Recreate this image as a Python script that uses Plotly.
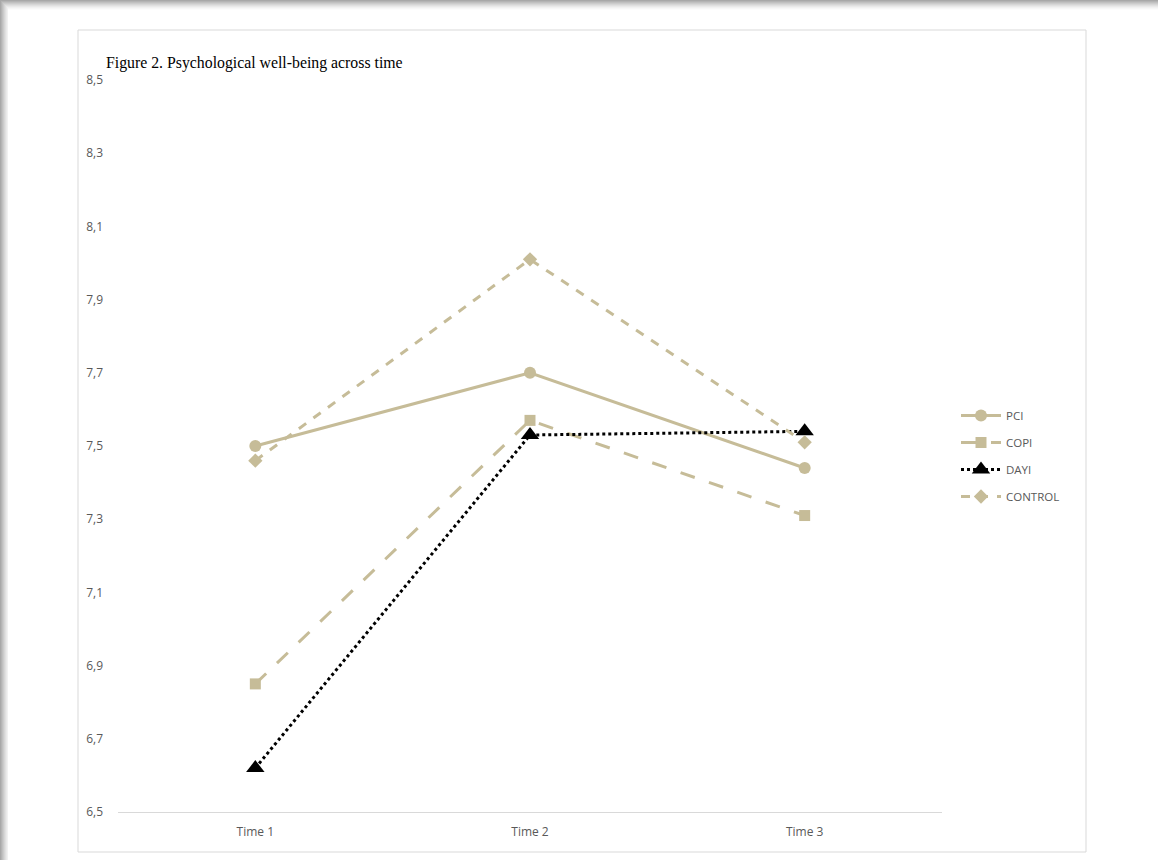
import plotly.graph_objects as go

categories = ["Time 1", "Time 2", "Time 3"]
pci = [7.50, 7.70, 7.44]
copi = [6.85, 7.57, 7.31]
dayi = [6.62, 7.53, 7.54]
control = [7.46, 8.01, 7.51]
y_ticks = [6.5, 6.7, 6.9, 7.1, 7.3, 7.5, 7.7, 7.9, 8.1, 8.3, 8.5]
y_labels = ["6,5", "6,7", "6,9", "7,1", "7,3", "7,5", "7,7", "7,9", "8,1", "8,3", "8,5"]
title_text = "Figure 2. Psychological well-being across time"

W, H = 1158, 860
L, R, T, B = 118, 942, 80, 812
tan = "#C6BC98"

def px(x):
    return (x - L) / (R - L)

def py(y):
    return (B - y) / (B - T)

xi = list(range(len(categories)))
fig = go.Figure()
fig.add_trace(go.Scatter(x=xi, y=pci, name="PCI", mode="lines+markers", legendgroup="a",
                         line=dict(color=tan, width=3), marker=dict(symbol="circle", size=12, color=tan)))
fig.add_trace(go.Scatter(x=xi, y=copi, name="COPI", mode="lines+markers", legendgroup="b",
                         line=dict(color=tan, width=3, dash="longdash"), marker=dict(symbol="square", size=11, color=tan)))
fig.add_trace(go.Scatter(x=xi, y=dayi, name="DAYI", mode="lines+markers", legendgroup="c",
                         line=dict(color="black", width=3, dash="dot"), marker=dict(symbol="triangle-up", size=16, color="black")))
fig.add_trace(go.Scatter(x=xi, y=control, name="CONTROL", mode="lines+markers", legendgroup="d",
                         line=dict(color=tan, width=3, dash="dash"), marker=dict(symbol="diamond", size=11, color=tan)))

shapes = []
greys = ["#a8a8a8", "#b4b4b4", "#c0c0c0", "#cbcbcb", "#d6d6d6", "#e0e0e0", "#e9e9e9", "#f1f1f1", "#f7f7f7", "#fcfcfc"]
for i, g in enumerate(greys):
    shapes.append(dict(type="rect", xref="paper", yref="paper", layer="below",
                       x0=px(i + 1 if i < 8 else 8), x1=px(W), y0=py(i), y1=py(i + 1),
                       fillcolor=g, line=dict(width=0)))
for i, g in enumerate(greys[:8]):
    shapes.append(dict(type="rect", xref="paper", yref="paper", layer="below",
                       x0=px(i), x1=px(i + 1), y0=py(i), y1=py(H),
                       fillcolor=g, line=dict(width=0)))
shapes.append(dict(type="rect", xref="paper", yref="paper", layer="below",
                   x0=px(78), x1=px(1086), y0=py(852), y1=py(30),
                   fillcolor="rgba(0,0,0,0)", line=dict(color="#D9D9D9", width=1)))

fig.update_layout(
    width=W, height=H,
    margin=dict(l=L, r=W - R, t=T, b=H - B),
    paper_bgcolor="white", plot_bgcolor="white",
    shapes=shapes,
    showlegend=True,
    legend=dict(x=px(956), y=py(401), xanchor="left", yanchor="top",
                font=dict(family="Open Sans", size=11.5, color="#595959"),
                traceorder="grouped", tracegroupgap=8, itemwidth=40,
                bgcolor="rgba(0,0,0,0)"),
    annotations=[dict(text=title_text, xref="paper", yref="paper", x=px(104), y=py(63),
                      xanchor="left", yanchor="middle", showarrow=False,
                      font=dict(family="Liberation Serif", size=15.8, color="black"))],
    xaxis=dict(range=[-0.5, 2.5], tickvals=xi, ticktext=categories, showgrid=False,
               showline=True, linecolor="#D9D9D9", linewidth=1, ticks="", zeroline=False,
               ticklabelstandoff=9,
               tickfont=dict(family="Open Sans", size=12, color="#595959")),
    yaxis=dict(range=[6.5, 8.5], tickvals=y_ticks, ticktext=y_labels, showgrid=False,
               showline=False, zeroline=False, ticks="", ticklabelstandoff=14,
               tickfont=dict(family="Open Sans", size=12, color="#595959")),
)
fig.write_html("out.html")
